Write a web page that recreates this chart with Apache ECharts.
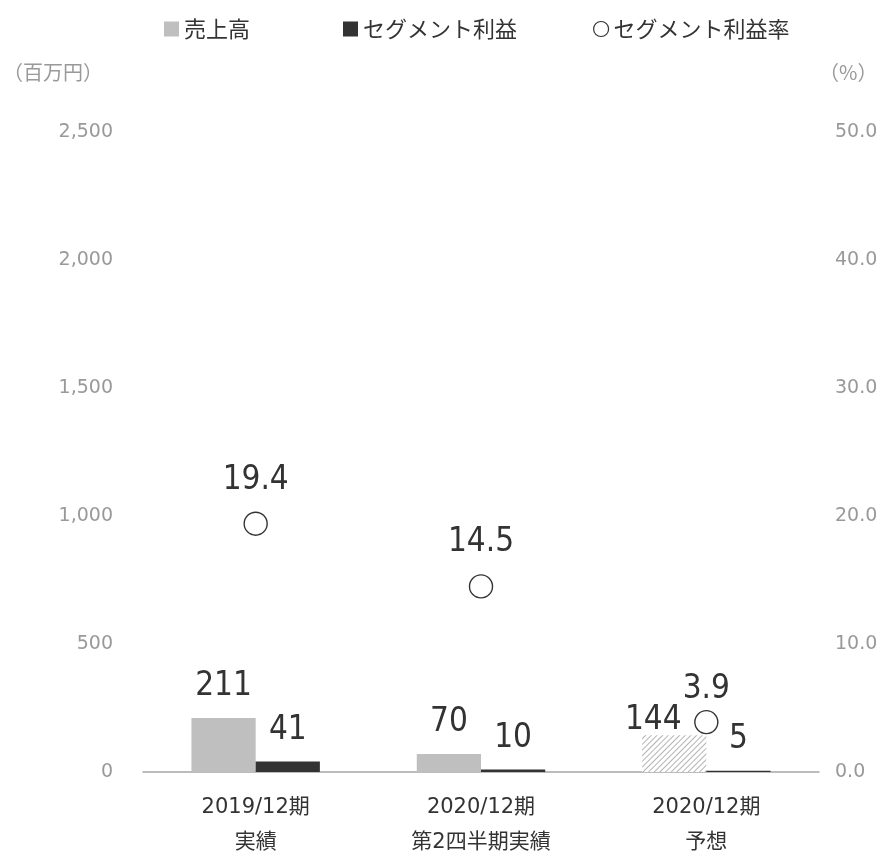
<!DOCTYPE html>
<html>
<head>
<meta charset="utf-8">
<script src="https://cdn.jsdelivr.net/npm/echarts@6/dist/echarts.min.js"></script>
<style>
  html, body { margin: 0; padding: 0; background: #fff; }
  #chart { width: 891px; height: 855px; }
</style>
</head>
<body>
<div id="chart"></div>
<script>
// Period categories (two-line labels)
var categories = ['2019/12期\n実績', '2020/12期\n第2四半期実績', '2020/12期\n予想'];
// Net sales (million yen)
var sales = [211, 70, 144];
// Segment profit (million yen)
var profit = [41, 10, 5];
// Segment profit margin (%)
var margin = [19.4, 14.5, 3.9];
// Left and right axis ranges
var leftAxisMax = 2500, leftAxisStep = 500;
var rightAxisMax = 50, rightAxisStep = 10;
// The last period is a forecast and is drawn hatched
var forecastIndex = 2;

var numFont = '"DejaVu Sans", "Noto Sans CJK JP", sans-serif';
var labelFont = '"DejaVu Sans Condensed", "DejaVu Sans", sans-serif';
var jpFont = '"Noto Sans CJK JP", "DejaVu Sans", sans-serif';

var salesData = sales.map(function (v, i) {
  if (i !== forecastIndex) return v;
  return {
    value: v,
    itemStyle: {
      color: '#ffffff',
      decal: {
        symbol: 'rect',
        symbolSize: 1,
        dashArrayX: [1, 0],
        dashArrayY: [1, 3],
        rotation: -Math.PI / 4,
        color: '#b3b3b3'
      }
    },
    label: { offset: [-21, 17] }
  };
});

var marginData = margin.map(function (v, i) {
  if (i !== forecastIndex) return v;
  return { value: v, label: { distance: 4 } };
});

var legendText = { fontFamily: jpFont, fontSize: 22, color: '#333' };

var chart = echarts.init(document.getElementById('chart'), null, { renderer: 'canvas' });

chart.setOption({
  backgroundColor: '#ffffff',
  animation: false,
  legend: [
    {
      top: 13, left: 159, itemWidth: 15, itemHeight: 15,
      textStyle: legendText,
      data: [{ name: '売上高', icon: 'rect' }]
    },
    {
      top: 13, left: 338, itemWidth: 15, itemHeight: 15,
      textStyle: legendText,
      data: [{ name: 'セグメント利益', icon: 'rect' }]
    },
    {
      top: 13, left: 588, itemWidth: 15, itemHeight: 15,
      textStyle: legendText,
      data: [{
        name: 'セグメント利益率', icon: 'circle',
        itemStyle: { color: '#fff', borderColor: '#333', borderWidth: 1.2, opacity: 1 }
      }]
    }
  ],
  grid: {
    left: 143, right: 72, top: 132, bottom: 83,
    containLabel: false,
    outerBoundsMode: 'none'
  },
  xAxis: {
    type: 'category',
    data: categories,
    axisTick: { show: false },
    axisLine: { lineStyle: { color: '#a6a6a6', width: 1.5 } },
    axisLabel: {
      color: '#333',
      fontFamily: numFont,
      fontSize: 21,
      lineHeight: 35,
      margin: 18
    }
  },
  yAxis: [
    {
      type: 'value',
      min: 0,
      max: leftAxisMax,
      interval: leftAxisStep,
      name: '（百万円）',
      nameLocation: 'end',
      nameGap: 50,
      nameTextStyle: {
        fontFamily: jpFont, fontSize: 20, color: '#999',
        align: 'right', padding: [0, 40, 0, 0]
      },
      splitLine: { show: false },
      axisLine: { show: false },
      axisTick: { show: false },
      axisLabel: {
        color: '#999',
        fontFamily: numFont,
        fontSize: 19,
        margin: 30,
        formatter: function (v) { return v.toLocaleString('en-US'); }
      }
    },
    {
      type: 'value',
      min: 0,
      max: rightAxisMax,
      interval: rightAxisStep,
      name: '（%）',
      nameLocation: 'end',
      nameGap: 50,
      nameTextStyle: {
        fontFamily: jpFont, fontSize: 20, color: '#999',
        align: 'left', padding: [0, 0, 0, 0]
      },
      splitLine: { show: false },
      axisLine: { show: false },
      axisTick: { show: false },
      axisLabel: {
        color: '#999',
        fontFamily: numFont,
        fontSize: 19,
        margin: 16,
        formatter: function (v) { return v.toFixed(1); }
      }
    }
  ],
  series: [
    {
      name: '売上高',
      type: 'bar',
      yAxisIndex: 0,
      data: salesData,
      barGap: '0%',
      barCategoryGap: '43%',
      itemStyle: { color: '#bfbfbf' },
      label: {
        show: true,
        position: 'top',
        distance: 15,
        color: '#333',
        fontFamily: labelFont,
        fontSize: 33
      }
    },
    {
      name: 'セグメント利益',
      type: 'bar',
      yAxisIndex: 0,
      data: profit,
      itemStyle: { color: '#333333' },
      label: {
        show: true,
        position: 'top',
        distance: 15,
        color: '#333',
        fontFamily: labelFont,
        fontSize: 33
      }
    },
    {
      name: 'セグメント利益率',
      type: 'scatter',
      yAxisIndex: 1,
      data: marginData,
      symbol: 'circle',
      symbolSize: 23,
      itemStyle: { color: '#ffffff', borderColor: '#333', borderWidth: 1.4, opacity: 1 },
      z: 5,
      label: {
        show: true,
        position: 'top',
        distance: 15,
        color: '#333',
        fontFamily: labelFont,
        fontSize: 33,
        formatter: function (p) { return p.value.toFixed(1); }
      }
    }
  ]
});
</script>
</body>
</html>
